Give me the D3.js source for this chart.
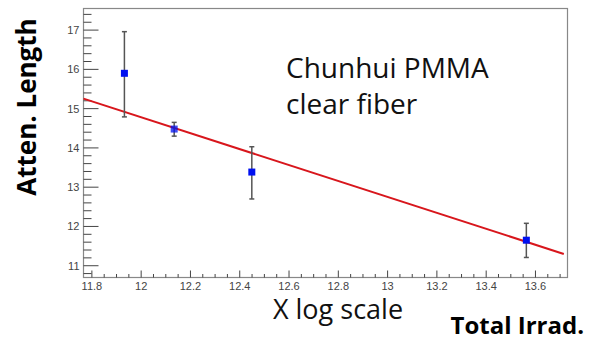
<!DOCTYPE html>
<html>
<head>
<meta charset="utf-8">
<script src="https://cdn.jsdelivr.net/npm/d3@7"></script>
<style>
  body { margin: 0; background: #fff; }
  svg { display: block; }
</style>
</head>
<body>
<div id="chart"></div>
<script>
// measured points (log of total irradiation vs attenuation length)
var xVals = [11.932, 12.134, 12.449, 13.563];
var yVals = [15.90, 14.48, 13.385, 11.65];
var yErrLow = [14.79, 14.30, 12.70, 11.21];
var yErrHigh = [16.96, 14.65, 14.03, 12.08];

// linear fit, drawn between these two x values
var fitX = [11.766, 13.715];
var fitY = [15.255, 11.30];

var xTicks = [11.8, 12, 12.2, 12.4, 12.6, 12.8, 13, 13.2, 13.4, 13.6];
var yTicks = [11, 12, 13, 14, 15, 16, 17];

var width = 589;
var height = 341;
var margin = { top: 8.5, right: 21.5, bottom: 63.5, left: 83.5 };
var w = width - margin.left - margin.right;
var h = height - margin.top - margin.bottom;

var svg = d3.select("#chart").append("svg")
  .attr("width", width)
  .attr("height", height);

var g = svg.append("g")
  .attr("transform", "translate(" + margin.left + "," + margin.top + ")");

var x = d3.scaleLinear().domain([11.766, 13.73]).range([0, w]);
var y = d3.scaleLinear().domain([10.70, 17.55]).range([h, 0]);

// frame
g.append("rect")
  .attr("width", w)
  .attr("height", h)
  .attr("fill", "none")
  .attr("stroke", "#888")
  .attr("stroke-width", 1.2);

// x ticks (minor every 0.05, major every 0.2)
var xMinor = d3.range(11.8, 13.73, 0.05).filter(function(v) { return x(v) > 0 && x(v) < w; });
g.selectAll(".xminor")
  .data(xMinor)
  .enter().append("line")
  .attr("x1", function(d) { return x(d); })
  .attr("x2", function(d) { return x(d); })
  .attr("y1", h)
  .attr("y2", function(d, i) { return i % 4 == 0 ? h - 7 : h - 3.5; })
  .attr("stroke", "#444")
  .attr("stroke-width", 1);

g.selectAll(".xlab")
  .data(xTicks)
  .enter().append("text")
  .attr("x", function(d) { return x(d); })
  .attr("y", h + 12)
  .attr("text-anchor", "middle")
  .style("font-family", "Liberation Sans, Arial, sans-serif")
  .style("font-size", "11px")
  .style("fill", "#444")
  .text(function(d) { return d; });

// y ticks (minor every 0.2)
var yMinor = d3.range(10.8, 17.55, 0.2);
g.selectAll(".yminor")
  .data(yMinor)
  .enter().append("line")
  .attr("x1", 0)
  .attr("x2", function(d) { return Math.abs(d - Math.round(d)) < 0.01 ? 15 : 8; })
  .attr("y1", function(d) { return y(d); })
  .attr("y2", function(d) { return y(d); })
  .attr("stroke", "#444")
  .attr("stroke-width", 1);

g.selectAll(".ylab")
  .data(yTicks)
  .enter().append("text")
  .attr("x", -4)
  .attr("y", function(d) { return y(d) + 4; })
  .attr("text-anchor", "end")
  .style("font-family", "Liberation Sans, Arial, sans-serif")
  .style("font-size", "11px")
  .style("fill", "#444")
  .text(function(d) { return d; });

// fit line
g.append("line")
  .attr("x1", x(fitX[0]))
  .attr("y1", y(fitY[0]))
  .attr("x2", x(fitX[1]))
  .attr("y2", y(fitY[1]))
  .attr("stroke", "#d8161c")
  .attr("stroke-width", 2);

// error bars
var pts = xVals.map(function(v, i) {
  return { x: v, y: yVals[i], lo: yErrLow[i], hi: yErrHigh[i] };
});

g.selectAll(".err")
  .data(pts)
  .enter().append("line")
  .attr("x1", function(d) { return x(d.x); })
  .attr("x2", function(d) { return x(d.x); })
  .attr("y1", function(d) { return y(d.lo); })
  .attr("y2", function(d) { return y(d.hi); })
  .attr("stroke", "#555")
  .attr("stroke-width", 1.5);

g.selectAll(".capTop")
  .data(pts)
  .enter().append("line")
  .attr("x1", function(d) { return x(d.x) - 2.5; })
  .attr("x2", function(d) { return x(d.x) + 2.5; })
  .attr("y1", function(d) { return y(d.hi); })
  .attr("y2", function(d) { return y(d.hi); })
  .attr("stroke", "#555")
  .attr("stroke-width", 1.5);

g.selectAll(".capBot")
  .data(pts)
  .enter().append("line")
  .attr("x1", function(d) { return x(d.x) - 2.5; })
  .attr("x2", function(d) { return x(d.x) + 2.5; })
  .attr("y1", function(d) { return y(d.lo); })
  .attr("y2", function(d) { return y(d.lo); })
  .attr("stroke", "#555")
  .attr("stroke-width", 1.5);

// markers
g.selectAll(".pt")
  .data(pts)
  .enter().append("rect")
  .attr("x", function(d) { return x(d.x) - 3.5; })
  .attr("y", function(d) { return y(d.y) - 3.5; })
  .attr("width", 7)
  .attr("height", 7)
  .attr("fill", "#0010f0")
  .attr("fill-opacity", function(d, i) { return i == 1 ? 0.75 : 1; });

// annotation
svg.append("text")
  .attr("x", 286)
  .attr("y", 78)
  .style("font-family", "Open Sans, sans-serif")
  .style("font-size", "28px")
  .style("fill", "#111")
  .text("Chunhui PMMA");

svg.append("text")
  .attr("x", 286)
  .attr("y", 114)
  .style("font-family", "Open Sans, sans-serif")
  .style("font-size", "28px")
  .style("fill", "#111")
  .text("clear fiber");

// axis titles
svg.append("text")
  .attr("x", 338)
  .attr("y", 319)
  .attr("text-anchor", "middle")
  .style("font-family", "Open Sans, sans-serif")
  .style("font-size", "27px")
  .style("fill", "#111")
  .text("X log scale");

svg.append("text")
  .attr("x", 584)
  .attr("y", 334)
  .attr("text-anchor", "end")
  .style("font-family", "Open Sans, sans-serif")
  .style("font-size", "24px")
  .style("font-weight", "bold")
  .style("fill", "#000")
  .text("Total Irrad.");

svg.append("text")
  .attr("transform", "translate(36,107) rotate(-90)")
  .attr("text-anchor", "middle")
  .style("font-family", "Open Sans, sans-serif")
  .style("font-size", "26px")
  .style("font-weight", "bold")
  .style("fill", "#000")
  .text("Atten. Length");
</script>
</body>
</html>
